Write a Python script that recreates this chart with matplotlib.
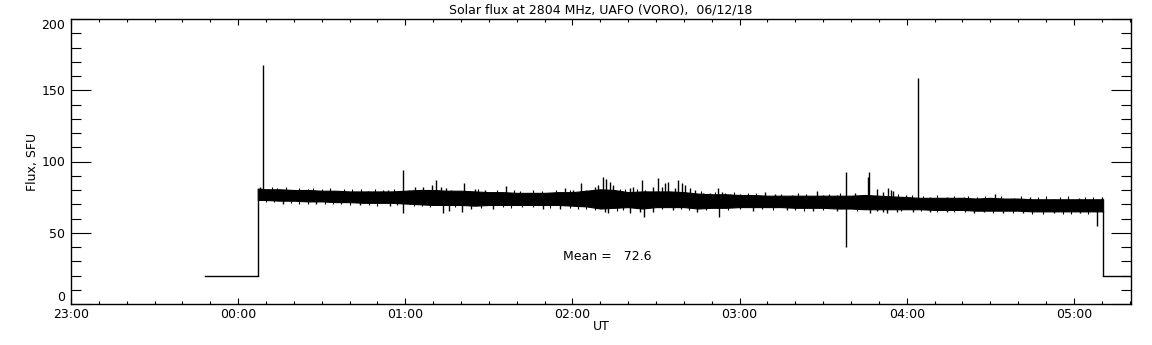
import numpy as np
import matplotlib
matplotlib.use("Agg")
import matplotlib.pyplot as plt
from matplotlib.ticker import FixedLocator, FixedFormatter, MultipleLocator

# time axis: minutes after 00:00 UT (negative = previous day)
title = "Solar flux at 2804 MHz, UAFO (VORO),  06/12/18"
tick_min = [-60, 0, 60, 120, 180, 240, 300]
tick_lab = ["23:00", "00:00", "01:00", "02:00", "03:00", "04:00", "05:00"]
flux_ticks = [0, 50, 100, 150, 200]

# receiver idle level before/after observation
off_level = 20
off_before = [-12, 7]
off_after = [310.5, 321]

# upper / lower edge of the noise band (sfu), every 5 min
band_t = [7] + list(range(10, 310, 5)) + [310.5]
band_hi = [81, 80.5, 80.5, 80, 80, 79.5, 79.5, 79, 79, 79, 79, 79.5, 80, 80, 79.5,
           79.5, 79, 78.5, 78.5, 78, 78, 78, 78.5, 78.5, 79.5, 80.5, 80, 78.5, 79, 79,
           79, 78.5, 77.5, 77, 77, 76.5, 76.5, 76, 76, 76, 76, 76, 76, 76, 76.5,
           76, 75.5, 75, 74.5, 74.5, 74.5, 74.5, 74, 74.5, 74, 74, 73.5, 73.5, 73.5,
           73.5, 73.5, 73.5]
band_lo = [73, 73, 72.5, 72.5, 72, 72, 71.5, 71.5, 71, 71, 71, 70.5, 70, 69.5, 69.5,
           69.5, 69, 69.5, 69.5, 69.5, 69.5, 69.5, 69.5, 69, 68.5, 67, 67.5, 68, 67, 68,
           68, 68, 67, 67.5, 67.5, 68, 68, 68, 68, 67.5, 67.5, 67.5, 67, 67, 66.5,
           66.5, 66.5, 66.5, 66.5, 66, 66, 66, 65.5, 65.5, 65.5, 65.5, 65, 65, 65,
           65, 65, 65]

# spikes above the band
up_t = [7.7, 9, 10.6, 19.6, 35.8, 46.6, 52, 53.8, 59.1, 61.5, 63.4, 66.3, 67.5, 69.7,
        71.1, 72.9, 74.5, 76.5, 79.5, 81, 84.9, 88.5, 91.5, 96, 103.5, 111.9, 117.2,
        120.2, 122.9, 125, 128, 129.2, 130.8, 132.2, 133.4, 134.4, 140.6, 141.8, 144.8,
        146, 148.8, 150.6, 152, 153.2, 154.4, 156.8, 158, 159.2, 160.4, 162.2, 164,
        167, 169.4, 172.3, 173.6, 174.7, 176.6, 180.2, 189.1, 192.7, 198.8, 207.7,
        210.1, 214.9, 218.1, 221.5, 223.9, 226, 226.5, 229.5, 231.6, 233.1, 234.3,
        235, 239.8, 244.2, 248.4, 254.4, 260.4, 265.2, 271.8, 278.4, 284.3, 292.7,
        301.7, 310.1]
up_v = [81.9, 168, 80.5, 79.6, 78.9, 79.3, 80, 80, 94, 80, 82.3, 82.3, 80, 83.5,
        87, 82.3, 81.2, 80, 78.9, 85, 80.5, 80, 78.9, 82.8, 77.7, 77.7, 81.2,
        80, 84.7, 80, 82.3, 83.5, 88.9, 87.5, 85.8, 83.5, 81.2, 82.3, 87,
        80, 82.3, 88.2, 82.3, 84.7, 85.8, 81.2, 87, 85, 83.5, 81.2, 80,
        77.7, 78.2, 81.2, 78.9, 78.2, 77.5, 77.5, 78.9, 77.2, 76.5, 79.5,
        76.5, 76.5, 92.4, 78.2, 76.5, 89.3, 92.4, 80.5, 78.9, 81.2, 80,
        79.3, 76.5, 158.5, 74.9, 75, 75, 74.9, 77.2, 74.5, 74.9, 74,
        74.2, 75.4]

# spikes below the band
dn_t = [16, 28, 43.6, 54.4, 59.1, 73.5, 75.6, 80.5, 83.7, 91.5, 109.5, 115.4, 131.6,
        132.8, 140.6, 144.2, 145.7, 149, 156.2, 164.6, 172.7, 184.9, 196.9, 206.5,
        214.9, 218.1, 226.8, 229.2, 231.6, 232.8, 236.4, 242.4, 248.4, 254.4, 264,
        267.6, 274.7, 281.9, 292.7, 302.3, 308.3]
dn_v = [70.5, 70, 69.5, 69, 63.6, 64, 65.5, 64.8, 67, 67, 67, 66.5, 64.8,
        63.6, 63.6, 64.8, 60.8, 64.8, 66, 64.8, 61.3, 65.5, 66, 65,
        65, 40.2, 64.1, 65.5, 64.8, 64.1, 64.5, 64.5, 64.8, 64.5, 63.6,
        64.5, 64, 64, 64, 64, 54.7]

# small ripple on the band edges
rip_up_t = [12, 14, 17, 22, 25, 27, 30, 33, 38, 41, 44, 49, 56, 86, 93, 99, 101, 106,
            109, 114, 119, 137, 139, 143, 166, 171, 178, 183, 186, 195, 201, 204, 212,
            216, 237, 242, 246, 251, 257, 262, 268, 274, 281, 287, 290, 295, 298, 304, 307]
rip_up_v = [82, 81.5, 82, 81.5, 81, 81.5, 81, 81.5, 80.5, 81, 80.5, 81, 80.5, 80.5, 80,
            80, 79.5, 80, 79.5, 80, 80, 81, 80.5, 80.5, 79, 78.5, 78.5, 78, 78, 77.5, 78,
            77.5, 77.5, 78, 77, 76.5, 76, 76.5, 76, 76, 76, 76, 75.5, 75, 75.5, 75, 75.5,
            75, 75]
rip_dn_t = [10, 13, 19, 22, 25, 31, 34, 37, 40, 47, 50, 57, 63, 66, 69, 78, 87, 95, 98,
            102, 106, 112, 119, 122, 125, 128, 136, 138, 152, 159, 162, 168, 176, 180,
            188, 192, 200, 203, 210, 222, 238, 245, 251, 257, 261, 271, 278, 285, 289,
            296, 299, 305]
rip_dn_v = [71.5, 71.5, 71, 70.5, 70.5, 70.5, 70, 70, 69.5, 69.5, 69, 69.5, 68.5, 68.5,
            68, 68, 67.5, 68, 67.5, 68, 68, 67.5, 67.5, 67, 67, 66, 65.5, 66, 66.5, 66.5,
            66, 66, 66, 66.5, 66.5, 66, 66, 65.5, 66, 65.5, 65, 65, 64.5, 64.5, 64.5, 64,
            64, 63.5, 63.5, 63.5, 63.5, 63.5]

mean_flux = 72.6

fig = plt.figure(figsize=(11.52, 3.45), dpi=100)
ax = fig.add_axes([71 / 1152, 1 - 304 / 345, 1060 / 1152, 285 / 345])

lw = 1.0
ax.fill_between(band_t, band_lo, band_hi, color="black", lw=0.8)

up_base = np.interp(up_t, band_t, band_hi) - 2
dn_base = np.interp(dn_t, band_t, band_lo) + 2
ax.vlines(up_t, up_base, up_v, color="black", lw=lw)
ax.vlines(dn_t, dn_v, dn_base, color="black", lw=lw)
ax.vlines(rip_up_t, np.interp(rip_up_t, band_t, band_hi) - 1, rip_up_v, color="black", lw=0.8)
ax.vlines(rip_dn_t, rip_dn_v, np.interp(rip_dn_t, band_t, band_lo) + 1, color="black", lw=0.8)

ax.plot(off_before, [off_level, off_level], color="black", lw=lw)
ax.plot(off_after, [off_level, off_level], color="black", lw=lw)
ax.vlines([band_t[0]], off_level, band_lo[0], color="black", lw=lw)
ax.vlines([band_t[-1]], off_level, band_lo[-1], color="black", lw=lw)

ax.text(116.5, 33, "Mean =   %.1f" % mean_flux, fontsize=9, ha="left", va="center")

ax.set_xlim(-60, 320.5)
ax.set_ylim(0, 200)
ax.xaxis.set_major_locator(FixedLocator(tick_min))
ax.xaxis.set_major_formatter(FixedFormatter(tick_lab))
ax.xaxis.set_minor_locator(MultipleLocator(10))
ax.yaxis.set_major_locator(FixedLocator(flux_ticks))
ax.yaxis.set_minor_locator(MultipleLocator(10))

ax.tick_params(axis="x", which="major", direction="in", length=4.3, width=0.8,
               top=True, labelsize=9, pad=3)
ax.tick_params(axis="x", which="minor", direction="in", length=2.2, width=0.8, top=True)
ax.tick_params(axis="y", which="major", direction="in", length=14.4, width=0.8,
               right=True, labelsize=9, pad=4)
ax.tick_params(axis="y", which="minor", direction="in", length=7.2, width=0.8, right=True)
for s in ax.spines.values():
    s.set_linewidth(1.0)

# end labels sit inside the axis range, as in the original plot
yt = ax.yaxis.get_major_ticks()
yt[0].label1.set_verticalalignment("bottom")
yt[-1].label1.set_verticalalignment("top")

ax.set_title(title, fontsize=9, pad=4)
ax.set_xlabel("UT", fontsize=9, labelpad=-1)
ax.set_ylabel("Flux, SFU", fontsize=9, labelpad=2)

fig.savefig("out.png", dpi=100)
